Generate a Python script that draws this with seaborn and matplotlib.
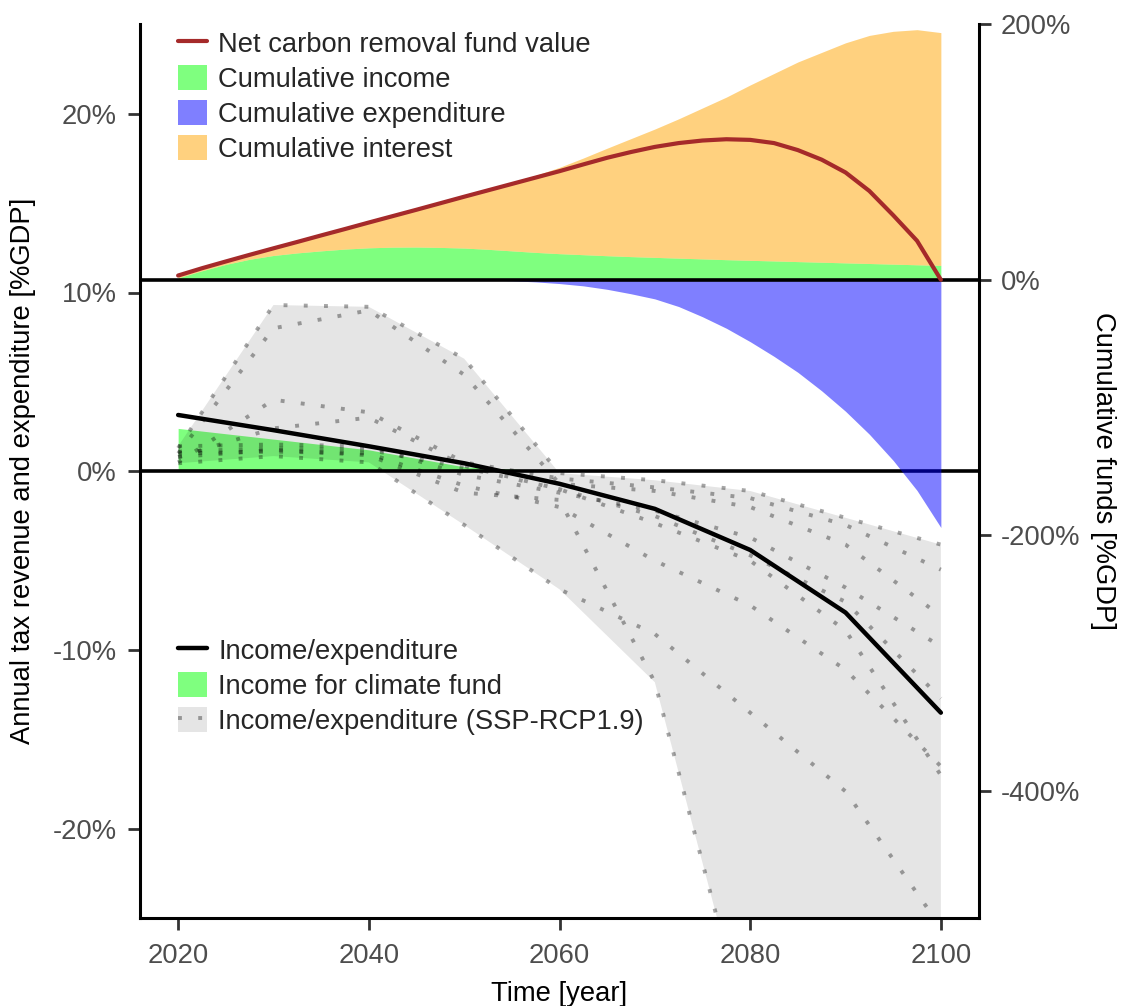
import numpy as np
import pandas as pd
import matplotlib
matplotlib.use("Agg")
import matplotlib.pyplot as plt
import seaborn as sns
from matplotlib.lines import Line2D
from matplotlib.patches import Patch

# annual values [%GDP], decadal
years = [2020, 2030, 2040, 2050, 2060, 2070, 2080, 2090, 2100]
income_expenditure = [3.15, 2.3, 1.4, 0.45, -0.7, -2.1, -4.4, -7.9, -13.5]
climate_fund_income = [2.4, 1.8, 1.2, 0.25, 0.0, 0.0, 0.0, 0.0, 0.0]

# SSP-RCP1.9 scenario runs
ssp_1 = [1.3, 9.3, 9.2, 6.3, -0.1, -0.5, -1.1, -2.6, -4.1]
ssp_2 = [1.0, 8.0, 9.0, 5.4, -0.7, -1.1, -2.0, -4.1, -8.1]
ssp_3 = [0.5, 4.0, 3.3, 0.5, -0.4, -0.9, -1.5, -3.0, -5.5]
ssp_4 = [0.8, 2.4, 3.0, 0.3, -1.0, -2.9, -5.0, -8.9, -17.0]
ssp_5 = [1.4, 1.5, 1.4, -0.2, -1.2, -2.2, -3.7, -6.5, -9.8]
ssp_6 = [1.0, 1.1, 1.0, -0.8, -2.0, -5.0, -7.5, -11.1, -16.5]
ssp_7 = [0.45, 0.85, 0.5, -3.0, -6.6, -9.1, -13.5, -17.9, -25.5]
ssp_8 = [0.8, 1.2, 0.9, -1.2, -1.6, -11.8, -32.0, -44.0, -55.0]
ssp_9 = [1.1, 1.3, 1.2, 0.2, -1.0, -2.5, -4.7, -7.3, -12.7]

# cumulative funds [%GDP], every 2.5 years 2020-2100
fund_years = [2020 + 2.5 * i for i in range(33)]
cum_income = [1.5, 7.0, 12.0, 16.0, 19.0, 21.0, 22.6, 24.0, 25.0, 25.5, 25.6,
              25.3, 24.8, 23.8, 22.6, 21.4, 20.4, 19.6, 18.8, 18.1, 17.5, 16.9,
              16.3, 15.7, 15.2, 14.7, 14.2, 13.7, 13.2, 12.7, 12.2, 11.7, 11.2]
cum_interest = [1.8, 2.0, 2.3, 3.5, 5.6, 8.6, 12.1, 15.7, 19.8, 24.3, 29.2,
                34.6, 40.2, 46.5, 53.2, 60.3, 67.6, 75.7, 84.2, 92.4, 100.5, 109.1,
                118.2, 127.3, 137.3, 146.8, 156.3, 164.3, 172.3, 178.6, 182.3, 184.1, 182.3]
cum_expenditure = [0, 0, 0, 0, 0, 0, 0, 0, 0, 0, 0,
                   0, 0, -0.3, -0.8, -1.7, -3.0, -4.8, -7.5, -11.0, -15.0, -21.0,
                   -29.0, -38.0, -48.5, -60.0, -72.5, -87.0, -103.0, -121.0, -141.5, -165.0, -194.0]
net_fund_value = [3.3, 9.0, 14.3, 19.5, 24.6, 29.6, 34.7, 39.7, 44.8, 49.8, 54.8,
                  59.9, 65.0, 70.0, 75.0, 80.0, 85.0, 90.3, 95.5, 100.0, 104.0, 107.0,
                  109.0, 110.0, 109.5, 107.0, 101.5, 94.0, 84.0, 69.5, 50.5, 30.5, 0.0]

sns.set_theme(style="white")
plt.rcParams['font.family'] = ['Liberation Sans', 'DejaVu Sans']

FS = 19.7
GREEN = (0, 1, 0, 0.5)
BLUE = (0, 0, 1, 0.5)
ORANGE = (1, 0.647, 0, 0.5)
GREY = (0, 0, 0, 0.1)
RED = '#A52A2A'
DOT = (0, (1, 4.2))

ssp_runs = [ssp_1, ssp_2, ssp_3, ssp_4, ssp_5, ssp_6, ssp_7, ssp_8, ssp_9]
ssp_df = pd.DataFrame({
    'year': years * len(ssp_runs),
    'value': sum(ssp_runs, []),
    'run': np.repeat(np.arange(len(ssp_runs)), len(years)),
})
main_df = pd.DataFrame({'year': years, 'value': income_expenditure})
fund_df = pd.DataFrame({'year': fund_years, 'income': cum_income,
                        'interest': cum_interest, 'expenditure': cum_expenditure,
                        'net': net_fund_value})

fig = plt.figure(figsize=(11.22, 10.06), dpi=100)
ax = fig.add_axes([140 / 1122, 1 - 918.3 / 1006, 839 / 1122, 894 / 1006])

# left axis: annual values
fund_mask = np.array(years) <= 2060
ax.fill_between(np.array(years)[fund_mask], 0, np.array(climate_fund_income)[fund_mask],
                color=GREEN, lw=0, zorder=1)
ssp_wide = np.array(ssp_runs)
ax.fill_between(years, ssp_wide.min(axis=0), ssp_wide.max(axis=0), color=GREY, lw=0, zorder=2)
for run_id, run_df in ssp_df.groupby('run'):
    sns.lineplot(data=run_df, x='year', y='value', ax=ax, color='black', alpha=0.35,
                 lw=2.8, linestyle=DOT, legend=False, zorder=3)
sns.lineplot(data=main_df, x='year', y='value', ax=ax, color='black', lw=3.2,
             legend=False, zorder=4)
ax.axhline(0, color='black', lw=2.6, zorder=5)

ax.set_xlim(2016, 2104)
ax.set_ylim(-25, 25)
ax.set_xticks([2020, 2040, 2060, 2080, 2100])
ax.set_yticks([-20, -10, 0, 10, 20])
ax.set_yticklabels(['-20%', '-10%', '0%', '10%', '20%'])
ax.set_xlabel('Time [year]', fontsize=FS, color='black', labelpad=9)
ax.set_ylabel('Annual tax revenue and expenditure [%GDP]', fontsize=FS, color='black', labelpad=12)

# right axis: cumulative funds
ax2 = ax.twinx()
income = fund_df['income'].to_numpy()
ax2.fill_between(fund_df['year'], 0, income, color=GREEN, lw=0, zorder=1)
ax2.fill_between(fund_df['year'], income, income + fund_df['interest'].to_numpy(),
                 color=ORANGE, lw=0, zorder=1)
ax2.fill_between(fund_df['year'], fund_df['expenditure'], 0, color=BLUE, lw=0, zorder=1)
ax2.axhline(0, color='black', lw=2.6, zorder=2)
sns.lineplot(data=fund_df, x='year', y='net', ax=ax2, color=RED, lw=3.0,
             legend=False, zorder=3)
ax2.set_ylim(-500, 200)
ax2.set_yticks([-400, -200, 0, 200])
ax2.set_yticklabels(['-400%', '-200%', '0%', '200%'])
ax2.set_ylabel('Cumulative funds [%GDP]', fontsize=FS, color='black', rotation=270,
               labelpad=26)
ax2.set_xlim(2016, 2104)

for a in (ax, ax2):
    a.tick_params(axis='both', direction='out', length=8.5, width=2, color='#333333',
                  labelcolor='#4D4D4D', labelsize=FS)
    a.grid(False)
    for s in a.spines.values():
        s.set_visible(False)
        s.set_linewidth(2.2)
        s.set_color('black')
ax.tick_params(axis='y', left=True, pad=8)
ax.tick_params(axis='x', bottom=True, pad=9)
ax2.tick_params(axis='y', right=True, pad=7)
ax.spines['left'].set_visible(True)
ax.spines['bottom'].set_visible(True)
ax2.spines['right'].set_visible(True)

top_handles = [Line2D([], [], color=RED, lw=3.0),
               Patch(facecolor=GREEN, lw=0),
               Patch(facecolor=BLUE, lw=0),
               Patch(facecolor=ORANGE, lw=0)]
top_labels = ['Net carbon removal fund value', 'Cumulative income',
              'Cumulative expenditure', 'Cumulative interest']
ax2.legend(top_handles, top_labels, loc='upper left', bbox_to_anchor=(0.0453, 0.9942),
           frameon=False, fontsize=FS, borderpad=0, borderaxespad=0,
           handlelength=1.07, handleheight=1.07, handletextpad=0.4, labelspacing=0.25)

bottom_handles = [Line2D([], [], color='black', lw=3.2),
                  Patch(facecolor=GREEN, lw=0),
                  (Patch(facecolor=GREY, lw=0),
                   Line2D([], [], color='black', alpha=0.35, lw=2.8, linestyle=DOT))]
bottom_labels = ['Income/expenditure', 'Income for climate fund',
                 'Income/expenditure (SSP-RCP1.9)']
ax.legend(bottom_handles, bottom_labels, loc='upper left', bbox_to_anchor=(0.0453, 0.3152),
          frameon=False, fontsize=FS, borderpad=0, borderaxespad=0,
          handlelength=1.07, handleheight=1.07, handletextpad=0.4, labelspacing=0.25)

fig.savefig('out.png', dpi=100)
